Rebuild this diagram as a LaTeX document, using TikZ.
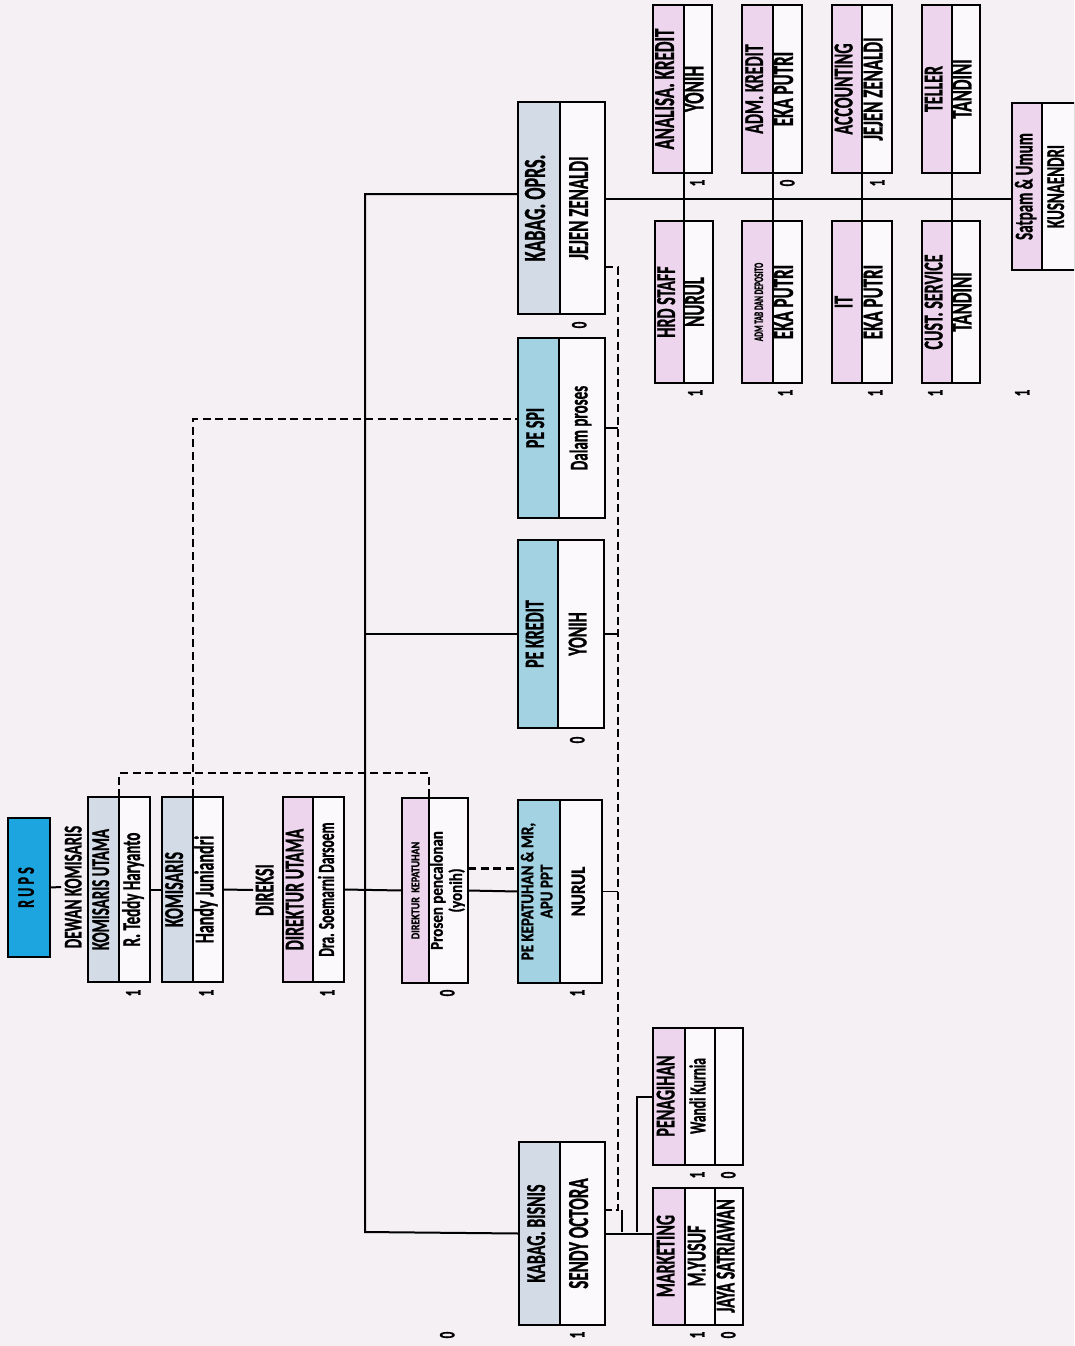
\documentclass[tikz,border=0pt]{standalone}
\usepackage{fontspec}
\setmainfont{Carlito}[BoldFeatures={FakeBold=1.2}]
\usepackage{graphicx}
\usetikzlibrary{calc}
\definecolor{paper}{HTML}{F5F0F4}
\definecolor{cellw}{HTML}{FBF9FB}
\definecolor{kgray}{HTML}{D3DBE7}
\definecolor{kpink}{HTML}{EDD5EE}
\definecolor{kblue}{HTML}{A3D3E3}
\definecolor{rupsblue}{HTML}{1DA5E0}
\newcommand{\vs}{1.7}
\newcommand{\fs}[1]{\fontsize{#1}{#1}\selectfont}
\newcommand{\tx}[1]{\scalebox{1}[\vs]{\begin{tabular}{@{}c@{}}#1\end{tabular}}}
% unit box: name, x, y, width, height, header width, colour, header, person
\newcommand{\unit}[9]{%
  \fill[cellw] (#2,#3) rectangle ++(#4,#5);
  \fill[#7] (#2,#3) rectangle ++(#6,#5);
  \node[box,minimum width=#4,minimum height=#5,anchor=north west] (#1) at (#2,#3) {};
  \coordinate (#1-dt) at ({#2+#6},#3);
  \coordinate (#1-db) at ({#2+#6},{#3+#5});
  \draw[link] (#1-dt) -- (#1-db);
  \node[lbl] (#1-h) at ({#2+#6/2},{#3+#5/2}) {\tx{#8}};
  \node[lbl] (#1-p) at ({#2+(#4+#6)/2},{#3+#5/2}) {\tx{#9}};}

\begin{document}
\begin{tikzpicture}[x=1pt,y=-1pt,
  box/.style={draw,line width=2pt,inner sep=0pt,outer sep=0pt},
  lbl/.style={rotate=90,inner sep=1pt,font=\bfseries\fs{16}},
  cnt/.style={rotate=90,inner sep=0pt,font=\bfseries\fs{13}},
  link/.style={line width=2pt},
  dsh/.style={line width=2.3pt,dash pattern=on 8pt off 4.5pt}]
  \clip (0,0) rectangle (1074,1346);
  \fill[paper] (0,0) rectangle (1074,1346);

  % board
  \node[box,fill=rupsblue,rotate=90,minimum width=139,minimum height=42,
        font=\bfseries\fs{14}] (rups) at (29,887.5) {\tx{R U P S}};
  \node[lbl] (dewan) at (76,887) {\tx{\fs{15}DEWAN KOMISARIS}};
  \unit{ku}{88}{797}{62}{185}{31}{kgray}{\fs{15}KOMISARIS UTAMA}{\fs{15}R. Teddy Haryanto}
  \unit{km}{162}{797}{61}{185}{31}{kgray}{KOMISARIS}{Handy Juniandri}
  \node[lbl] (direksi) at (268,890) {\tx{DIREKSI}};
  \unit{du}{283}{797}{61}{185}{30}{kpink}{DIREKTUR UTAMA}{\fs{13.5}Dra. Soemarni Darsoem}
  {\renewcommand{\vs}{1.2}
  \unit{dk}{402}{798}{66}{185}{27}{kpink}{\fs{10}DIREKTUR\ \ KEPATUHAN}{\fs{15}Prosen pencalonan\\\fs{15}(yonih)}
  \unit{pkep}{518}{800}{84}{183}{42}{kblue}{\fs{15}PE KEPATUHAN \& MR,\\\fs{15}APU PPT}{\fs{17}NURUL}}

  % pejabat eksekutif and kabag
  \unit{pk}{518}{540}{86}{188}{40}{kblue}{PE KREDIT}{YONIH}
  \unit{ps}{518}{338}{87}{180}{41}{kblue}{PE SPI}{\fs{15}Dalam proses}
  \unit{ko}{518}{102}{87}{212}{42}{kgray}{\fs{18}KABAG. OPRS.}{\fs{17}JEJEN ZENALDI}
  \unit{kb}{519}{1142}{86}{183}{41}{kgray}{KABAG. BISNIS}{\fs{17}SENDY OCTORA}

  % staff
  \unit{ak}{653}{5}{59}{168}{31}{kpink}{\fs{17}ANALISA. KREDIT}{\fs{17}YONIH}
  \unit{ad}{742}{5}{60}{168}{31}{kpink}{ADM. KREDIT}{\fs{17}EKA PUTRI}
  \unit{ac}{832}{5}{60}{168}{30}{kpink}{ACCOUNTING}{\fs{17}JEJEN ZENALDI}
  \unit{te}{922}{5}{58}{168}{30}{kpink}{TELLER}{\fs{17}TANDINI}
  \unit{hr}{655}{221}{58}{162}{29}{kpink}{HRD STAFF}{\fs{17}NURUL}
  \unit{at}{742}{221}{60}{162}{31}{kpink}{\fs{7.5}ADM TAB DAN DEPOSITO}{\fs{17}EKA PUTRI}
  \unit{it}{832}{221}{60}{162}{30}{kpink}{IT}{\fs{17}EKA PUTRI}
  \unit{cs}{922}{221}{58}{162}{30}{kpink}{CUST. SERVICE}{\fs{17}TANDINI}
  \unit{sa}{1012}{103}{63}{167}{30}{kpink}{\fs{15}Satpam \& Umum}{\fs{15}KUSNAENDRI}

  % marketing and penagihan (three columns)
  \fill[cellw] (653,1188) rectangle (743,1325);
  \fill[kpink] (653,1188) rectangle (685,1325);
  \node[box,minimum width=90,minimum height=137,anchor=north west] (mk) at (653,1188) {};
  \draw[link] (685,1188) -- (685,1325) (715,1188) -- (715,1325);
  \node[lbl] (mk-h) at (669,1256) {\tx{MARKETING}};
  \node[lbl] (mk-p) at (700,1256) {\tx{M.YUSUF}};
  \node[lbl] (mk-q) at (729,1256) {\tx{JAYA SATRIAWAN}};
  \fill[cellw] (653,1028) rectangle (743,1165);
  \fill[kpink] (653,1028) rectangle (685,1165);
  \node[box,minimum width=90,minimum height=137,anchor=north west] (pn) at (653,1028) {};
  \draw[link] (685,1028) -- (685,1165) (715,1028) -- (715,1165);
  \node[lbl] (pn-h) at (669,1096) {\tx{PENAGIHAN}};
  \node[lbl] (pn-p) at (700,1096) {\tx{\fs{13.5}Wandi Kurnia}};

  % counts
  \foreach \x/\y/\v [count=\i] in {136/993/1,209/993/1,330/993/1,450/993/0,580/993/1,
      580/740/0,582/325/0,580/1335/1,450/1335/0,700/1335/1,731/1335/0,700/1175/1,
      731/1175/0,700/183/1,790/183/0,880/183/1,698/393/1,788/393/1,878/393/1,
      938/393/1,1025/393/1}
    \node[cnt] (n\i) at (\x,\y) {\tx{\v}};

  % solid lines
  \draw[link] (rups.south) -- (dewan.north);
  \draw[link] (ku.east) -- (km.west);
  \draw[link] (km.east) -- (direksi.north);
  \draw[link] (du.east) -- (dk.west);
  \draw[link] (dk.east) -- (pkep.west);
  \coordinate (tt) at (365,194);
  \coordinate (tb) at (365,1232);
  \draw[link] (ko.west |- tt) -- (tt) -- (tb) -- (kb.west);
  \draw[link] (pk.west) -- (pk.west -| tt);
  \draw[link] ($(ko.east)+(0,-9)$) coordinate (op) -- (op -| sa.west);
  \foreach \a/\b in {ak/hr,ad/at,ac/it,te/cs}
    \draw[link] (\a-db) -- (\b-dt);
  \coordinate (j1) at (622,1210);
  \coordinate (j2) at (637,1232);
  \draw[link] (kb.east) -- (kb.east -| mk.west);
  \draw[link] (pn.west) -| (j2);
  \draw[link] (j1) -- (j1 |- j2);

  % dashed lines
  \draw[dsh] (ku-dt) -- ++(0,-24) -| (dk-dt);
  \draw[dsh] (km-dt) |- ($(ps.west)+(0,-9)$);
  \draw[dsh] ($(dk.east)+(0,-22)$) coordinate (dd) -- (dd -| pkep.west);
  \coordinate (d1) at (618,267);
  \coordinate (d2) at (618,1210);
  \draw[dsh] (ko.east |- d1) -- (d1) -- (d2) -- (kb.east |- d2);
  \foreach \n in {ps,pk,pkep}
    \draw[link,line width=1.5pt] (\n.east) -- (\n.east -| d1);
\end{tikzpicture}
\end{document}
